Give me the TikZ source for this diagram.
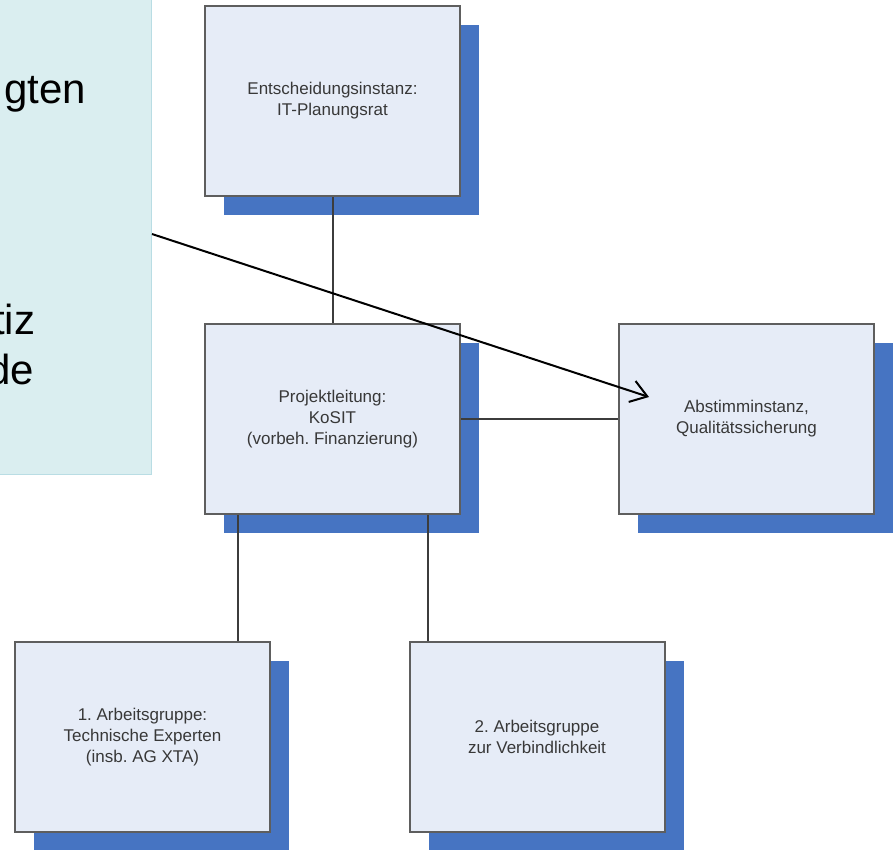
\documentclass[tikz,border=0pt]{standalone}
\usepackage{fontspec}
\setmainfont{Liberation Sans}
\usetikzlibrary{shadows,arrows.meta}
\frenchspacing
\definecolor{calloutfill}{HTML}{DAEEF0}
\definecolor{calloutdraw}{HTML}{B9DDE4}
\definecolor{boxfill}{HTML}{E6ECF7}
\definecolor{boxdraw}{HTML}{5E5E5E}
\definecolor{shadowblue}{HTML}{4674C2}
\definecolor{linegray}{HTML}{3C3C3C}
\definecolor{boxtext}{HTML}{383838}
\tikzset{
  orgbox/.style={rectangle, draw=boxdraw, line width=2pt, fill=boxfill,
    minimum width=255pt, minimum height=190pt, align=center, text=boxtext,
    font=\fontsize{17}{21}\selectfont, inner sep=2pt,
    general shadow={fill=shadowblue, draw=none, shadow xshift=19pt, shadow yshift=-19pt}},
  link/.style={draw=linegray, line width=1.5pt},
  calltext/.style={inner sep=0pt, font=\fontsize{42}{50}\selectfont, text=black},
  callout/.style={rectangle, fill=calloutfill, draw=calloutdraw, line width=1pt, inner sep=0pt}
}
\begin{document}
\begin{tikzpicture}[x=1pt,y=-1pt]
\clip (0,0) rectangle (893,849);
\useasboundingbox (0,0) rectangle (893,849);
% callout (partly outside the picture)
\node[callout, anchor=south east, minimum width=220pt, minimum height=520pt] (callout) at (152,475) {};
\node[calltext, anchor=base east] (c1) at (86,103) {gten};
\node[calltext, anchor=base east] (c2) at (35.5,334) {tiz};
\node[calltext, anchor=base east] (c3) at (34.5,384) {de};
% boxes
\node[orgbox] (top) at (332.5,101) {Entscheidungsinstanz:\\IT-Planungsrat};
\node[orgbox] (proj) at (332.5,419) {Projektleitung:\\KoSIT\\(vorbeh. Finanzierung)};
\node[orgbox] (abst) at (746.5,419) {Abstimminstanz,\\Qualitätssicherung};
\node[orgbox] (ag1) at (142.5,737) {1. Arbeitsgruppe:\\Technische Experten\\(insb. AG XTA)};
\node[orgbox] (ag2) at (537,736.5) {2. Arbeitsgruppe\\zur Verbindlichkeit};
% connectors
\draw[link] (top.south -| 333,0) -- (proj.north -| 333,0);
\draw[link] (proj.east) -- (abst.west);
\draw[link] (proj.south -| 238,0) -- (ag1.north -| 238,0);
\draw[link] (proj.south -| 428,0) -- (ag2.north -| 428,0);
% arrow
\coordinate (arrstart) at (callout.east |- 0,234);
\coordinate (arrend) at (649,397);
\draw[line width=2pt, -{Straight Barb[length=16pt,width=22pt,line width=2pt]}] (arrstart) -- (arrend);
\end{tikzpicture}
\end{document}
